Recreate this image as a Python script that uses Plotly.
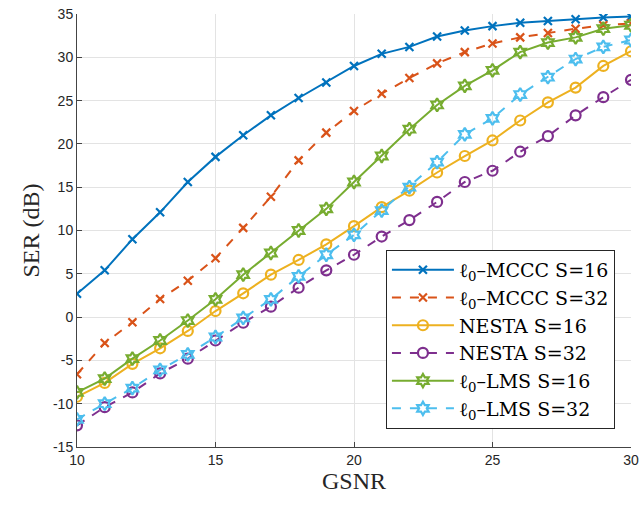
import plotly.graph_objects as go

gsnr = list(range(10, 31))

mccc16 = [2.7, 5.4, 9.0, 12.1, 15.6, 18.5, 21.0, 23.3, 25.3, 27.1, 29.0, 30.4, 31.2, 32.4, 33.1, 33.6, 34.0, 34.2, 34.4, 34.6, 34.7]
mccc32 = [-6.6, -3.0, -0.6, 2.1, 4.2, 6.8, 10.3, 13.9, 18.1, 21.3, 23.8, 25.8, 27.6, 29.3, 30.6, 31.6, 32.3, 32.8, 33.3, 33.7, 33.9]
nesta16 = [-9.2, -7.6, -5.4, -3.6, -1.6, 0.7, 2.75, 4.9, 6.6, 8.4, 10.5, 12.7, 14.6, 16.7, 18.6, 20.4, 22.7, 24.8, 26.5, 29.0, 30.7]
nesta32 = [-12.5, -10.4, -8.7, -6.5, -4.8, -2.7, -0.65, 1.2, 3.4, 5.4, 7.2, 9.3, 11.2, 13.3, 15.6, 16.9, 19.1, 20.9, 23.3, 25.4, 27.4]
lms16 = [-8.7, -7.1, -4.8, -2.7, -0.4, 2.05, 4.9, 7.4, 10.0, 12.5, 15.6, 18.6, 21.7, 24.5, 26.7, 28.5, 30.6, 31.7, 32.3, 33.3, 33.7]
lms32 = [-11.8, -10.0, -8.2, -6.1, -4.3, -2.3, -0.1, 2.05, 4.7, 7.2, 9.5, 12.3, 15.0, 17.9, 21.1, 22.95, 25.7, 27.7, 29.8, 31.2, 32.0]

names = ["ℓ<sub>0</sub>–MCCC S=16", "ℓ<sub>0</sub>–MCCC S=32", "NESTA S=16",
         "NESTA S=32", "ℓ<sub>0</sub>–LMS S=16", "ℓ<sub>0</sub>–LMS S=32"]
series = [mccc16, mccc32, nesta16, nesta32, lms16, lms32]
colors = ["#0072BD", "#D95319", "#EDB120", "#7E2F8E", "#77AC30", "#4DBEEE"]
dashes = ["solid", "dash", "solid", "dash", "solid", "dash"]
symbols = ["x-thin-open", "x-thin-open", "circle-open", "circle-open", "hexagram-open", "hexagram-open"]
msizes = [8, 8, 10, 10, 10, 10]

xticks = [10, 15, 20, 25, 30]
yticks = [-15, -10, -5, 0, 5, 10, 15, 20, 25, 30, 35]

fig = go.Figure()
for n, s, c, d, sy, ms in zip(names, series, colors, dashes, symbols, msizes):
    fig.add_trace(go.Scatter(
        x=gsnr, y=s, name=n, mode="lines+markers",
        line=dict(color=c, width=2, dash=d),
        marker=dict(symbol=sy, size=ms, color=c, line=dict(color=c, width=2.2)),
    ))

fig.update_layout(
    width=641, height=506,
    margin=dict(l=77, r=10, t=14, b=59),
    paper_bgcolor="white", plot_bgcolor="white",
    font=dict(family="Liberation Sans", size=14, color="#262626"),
    legend=dict(
        x=0.971, y=0.455, xanchor="right", yanchor="top",
        bgcolor="white", bordercolor="#262626", borderwidth=1,
        font=dict(family="DejaVu Serif", size=19, color="black"),
        tracegroupgap=0, itemwidth=62,
    ),
    xaxis=dict(
        range=[10, 30], tickvals=xticks, ticktext=[str(v) for v in xticks],
        showgrid=True, gridcolor="#E3E3E3", gridwidth=1,
        showline=True, linecolor="#444", linewidth=1,
        ticks="inside", ticklen=5, tickcolor="#444",
        zeroline=False, automargin=False,
        title=dict(text="GSNR", font=dict(family="Liberation Serif", size=24, color="#262626"), standoff=4),
    ),
    yaxis=dict(
        range=[-15, 35], tickvals=yticks, ticktext=[str(v) for v in yticks],
        showgrid=True, gridcolor="#E3E3E3", gridwidth=1,
        showline=True, linecolor="#444", linewidth=1,
        ticks="inside", ticklen=5, tickcolor="#444",
        zeroline=False, automargin=False,
        title=dict(text="SER (dB)", font=dict(family="Liberation Serif", size=24, color="#262626"), standoff=6),
    ),
)

fig.write_html("out.html")
